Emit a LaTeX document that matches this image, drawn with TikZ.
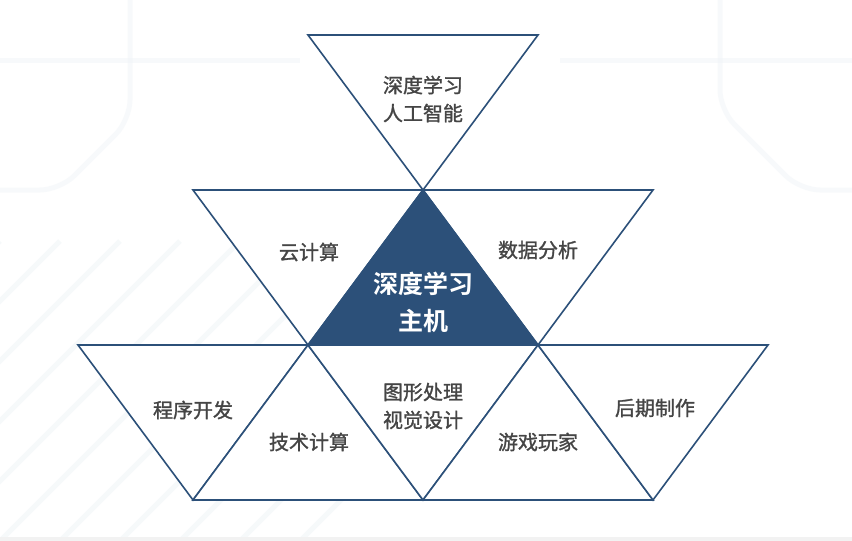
\documentclass[tikz,border=0pt]{standalone}
\usepackage{fontspec}
\setmainfont{Noto Sans CJK SC}
\newfontfamily\cjkmed[FakeBold=1.3]{Noto Sans CJK SC}
\newfontfamily\cjkbold{Noto Sans CJK SC Bold}
\definecolor{navy}{HTML}{2C5079}
\definecolor{txtgray}{HTML}{454545}
\definecolor{bgline}{HTML}{EDF2F6}
\begin{document}
\begin{tikzpicture}[x=1pt,y=-1pt,
  tri/.style={draw=navy,line width=1.6pt,line join=miter,fill=white},
  hub/.style={draw=navy,line width=1.6pt,fill=navy},
  lbl/.style={text=txtgray,font=\cjkmed\fontsize{20}{28}\selectfont,align=center,inner sep=0pt},
  hublbl/.style={text=white,font=\cjkbold\fontsize{25}{37}\selectfont,align=center,inner sep=0pt},
  bgl/.style={draw=bgline,line width=5pt}]
\useasboundingbox (0,0) rectangle (852,541);
\fill[white] (0,0) rectangle (852,541);
% faint background decoration
\foreach \s in {0,60,...,600}{\draw[bgl,opacity=0.45] (\s-300,541) -- (\s,241);}
\draw[bgl,opacity=0.4,rounded corners=20pt] (130,0) -- (130,120) -- (60,190) -- (0,190);
\draw[bgl,opacity=0.4,rounded corners=20pt] (720,0) -- (720,110) -- (800,190) -- (852,190);
\draw[bgl,opacity=0.4] (0,60) -- (300,60);
\draw[bgl,opacity=0.4] (560,60) -- (852,60);
\fill[gray!10] (0,537) rectangle (852,541);
% coordinates
\coordinate (t1) at (308,35);  \coordinate (t2) at (538,35);
\coordinate (m0) at (193,190); \coordinate (m1) at (423,190); \coordinate (m2) at (653,190);
\coordinate (b0) at (78,345);  \coordinate (b1) at (308,345); \coordinate (b2) at (538,345); \coordinate (b3) at (768,345);
\coordinate (c0) at (193,500); \coordinate (c1) at (423,500); \coordinate (c2) at (653,500);
% triangles
\draw[tri] (t1) -- (t2) -- (m1) -- cycle;
\draw[tri] (m0) -- (m1) -- (b1) -- cycle;
\draw[tri] (m1) -- (m2) -- (b2) -- cycle;
\draw[tri] (b0) -- (b1) -- (c0) -- cycle;
\draw[tri] (b1) -- (c1) -- (c0) -- cycle;
\draw[tri] (b1) -- (b2) -- (c1) -- cycle;
\draw[tri] (b2) -- (c2) -- (c1) -- cycle;
\draw[tri] (b2) -- (b3) -- (c2) -- cycle;
\draw[hub] (m1) -- (b2) -- (b1) -- cycle;
% labels
\node[lbl] (ai) at (423,99) {深度学习\\人工智能};
\node[lbl] (cloud) at (309,252) {云计算};
\node[lbl] (data) at (538,250) {数据分析};
\node[hublbl] (hubtxt) at (423,302) {深度学习\\主机};
\node[lbl] (dev) at (193,410) {程序开发};
\node[lbl] (tech) at (309,442) {技术计算};
\node[lbl] (gfx) at (423,406) {图形处理\\视觉设计};
\node[lbl] (game) at (538,442) {游戏玩家};
\node[lbl] (post) at (655,408) {后期制作};
\end{tikzpicture}
\end{document}
